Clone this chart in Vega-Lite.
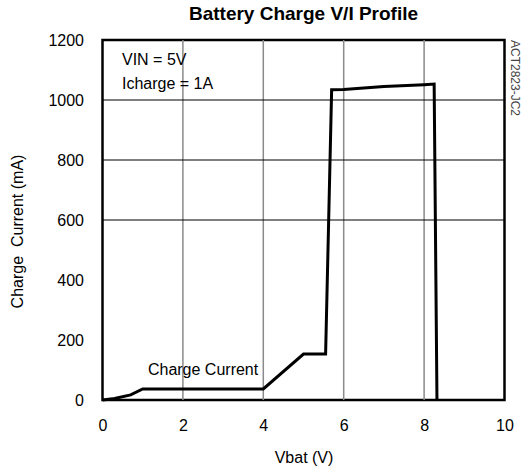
{
  "$schema": "https://vega.github.io/schema/vega-lite/v6.json",
  "width": 402,
  "height": 360,
  "autosize": {"type": "none"},
  "padding": {"left": 102.5, "top": 40, "right": 22.5, "bottom": 73},
  "background": "white",
  "config": {
    "view": {"stroke": "black", "strokeWidth": 2.5},
    "font": "Liberation Sans, Arial, sans-serif",
    "axis": {"labelColor": "black", "titleColor": "black", "labelFont": "Liberation Sans, Arial, sans-serif", "titleFont": "Liberation Sans, Arial, sans-serif"}
  },
  "title": {
    "text": "Battery Charge V/I Profile",
    "fontSize": 19,
    "fontWeight": "bold",
    "color": "black",
    "anchor": "middle",
    "offset": 8,
    "font": "Liberation Sans, Arial, sans-serif"
  },
  "layer": [
    {
      "data": {"values": [{"gx": 2}, {"gx": 4}, {"gx": 6}, {"gx": 8}]},
      "mark": {"type": "rule", "color": "#8a8a8a", "strokeWidth": 1.5},
      "encoding": {
        "x": {"field": "gx", "type": "quantitative", "scale": {"domain": [0, 10], "nice": false}}
      }
    },
    {
      "data": {"values": [{"gy": 600}, {"gy": 800}, {"gy": 1000}]},
      "mark": {"type": "rule", "color": "black", "strokeWidth": 1.2},
      "encoding": {
        "y": {"field": "gy", "type": "quantitative", "scale": {"domain": [0, 1200], "nice": false}}
      }
    },
    {
      "data": {
        "values": [
          {"i": 0, "v": 0, "c": 0},
          {"i": 1, "v": 0.3, "c": 5},
          {"i": 2, "v": 0.7, "c": 17},
          {"i": 3, "v": 1.0, "c": 37},
          {"i": 4, "v": 4.0, "c": 37},
          {"i": 5, "v": 5.0, "c": 153},
          {"i": 6, "v": 5.55, "c": 153},
          {"i": 7, "v": 5.7, "c": 1034},
          {"i": 8, "v": 6.0, "c": 1035},
          {"i": 9, "v": 7.0, "c": 1045},
          {"i": 10, "v": 8.0, "c": 1051},
          {"i": 11, "v": 8.25, "c": 1053},
          {"i": 12, "v": 8.32, "c": 0}
        ]
      },
      "mark": {"type": "line", "color": "black", "strokeWidth": 3, "strokeJoin": "miter"},
      "encoding": {
        "x": {
          "field": "v", "type": "quantitative",
          "scale": {"domain": [0, 10], "nice": false},
          "axis": {
            "title": "Vbat (V)", "values": [0, 2, 4, 6, 8, 10], "format": "d", "grid": false, "ticks": false, "domain": false, "labelFlush": false,
            "labelFontSize": 16, "labelPadding": 17, "titleFontSize": 16, "titleFontWeight": "normal", "titlePadding": 16
          }
        },
        "y": {
          "field": "c", "type": "quantitative",
          "scale": {"domain": [0, 1200], "nice": false},
          "axis": {
            "title": "Charge\u00a0\u00a0Current (mA)", "values": [0, 200, 400, 600, 800, 1000, 1200], "format": "d", "grid": false, "ticks": false, "domain": false, "labelFlush": false,
            "labelFontSize": 16, "labelPadding": 19, "titleFontSize": 16, "titleFontWeight": "normal", "titlePadding": 22, "titleY": 191
          }
        },
        "order": {"field": "i", "type": "quantitative"}
      }
    },
    {
      "data": {
        "values": [
          {"tx": 0.485, "ty": 1133, "label": "VIN = 5V"},
          {"tx": 0.485, "ty": 1053, "label": "Icharge = 1A"},
          {"tx": 1.13, "ty": 100, "label": "Charge Current"}
        ]
      },
      "mark": {"type": "text", "align": "left", "baseline": "middle", "fontSize": 16, "color": "black"},
      "encoding": {
        "x": {"field": "tx", "type": "quantitative"},
        "y": {"field": "ty", "type": "quantitative"},
        "text": {"field": "label"}
      }
    },
    {
      "data": {"values": [{"tx": 10.27, "ty": 1200, "label": "ACT2823-JC2"}]},
      "mark": {"type": "text", "align": "left", "baseline": "middle", "angle": 90, "fontSize": 12, "color": "#444444"},
      "encoding": {
        "x": {"field": "tx", "type": "quantitative"},
        "y": {"field": "ty", "type": "quantitative"},
        "text": {"field": "label"}
      }
    }
  ]
}
